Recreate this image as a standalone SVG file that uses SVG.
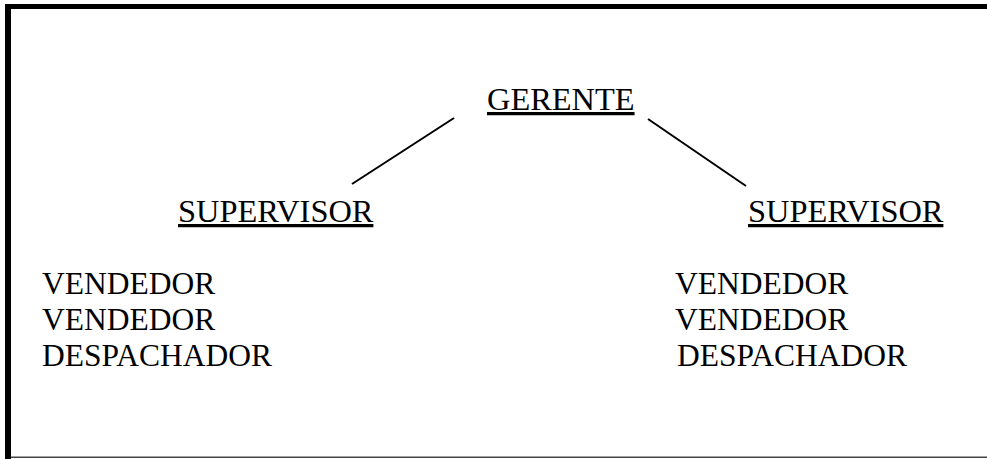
<svg xmlns="http://www.w3.org/2000/svg" width="987" height="459" viewBox="0 0 987 459">
<style>
.t{font-family:"Liberation Serif","Times New Roman",serif;font-size:31.5px;fill:#000}
.h{font-size:32.4px;text-decoration:underline}
.c{stroke:#000;stroke-width:2;fill:none}
</style>
<rect width="987" height="459" fill="#fff"/>
<g id="frame">
<rect x="5" y="4" width="982" height="5" fill="#000"/>
<rect x="5" y="4" width="6" height="455" fill="#000"/>
<rect x="11" y="456.5" width="976" height="1.5" fill="#444"/>
</g>
<g id="connectors">
<line class="c" x1="454" y1="118" x2="352" y2="184"/>
<line class="c" x1="648" y1="119" x2="746" y2="186"/>
</g>
<g id="gerente"><text class="t h" x="487" y="110">GERENTE</text></g>
<g id="supervisor-left"><text class="t h" x="178" y="222">SUPERVISOR</text></g>
<g id="supervisor-right"><text class="t h" x="748" y="222">SUPERVISOR</text></g>
<g id="staff-left">
<text class="t" x="42" y="294">VENDEDOR</text>
<text class="t" x="42" y="330">VENDEDOR</text>
<text class="t" x="42" y="366">DESPACHADOR</text>
</g>
<g id="staff-right">
<text class="t" x="675" y="294">VENDEDOR</text>
<text class="t" x="675" y="330">VENDEDOR</text>
<text class="t" x="677" y="366">DESPACHADOR</text>
</g>
</svg>
